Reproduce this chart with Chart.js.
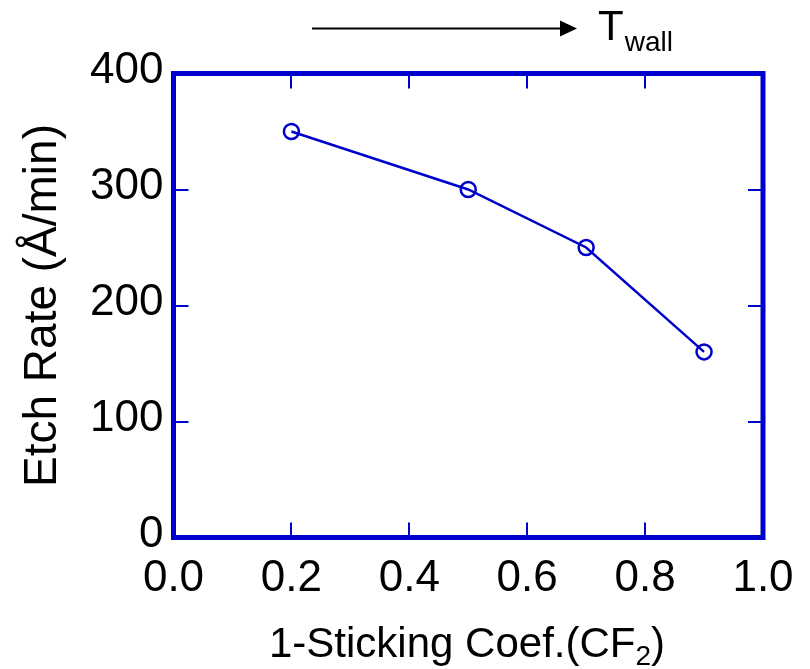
<!DOCTYPE html>
<html>
<head>
<meta charset="utf-8">
<title>Etch rate vs sticking coefficient</title>
<script src="https://cdn.jsdelivr.net/npm/chart.js@4.4.0/dist/chart.umd.min.js"></script>
<style>
  html, body { margin: 0; padding: 0; background: #fff; }
</style>
</head>
<body>
<canvas id="etch" width="810" height="669"></canvas>
<script>
const coefValues = [0.2, 0.5, 0.7, 0.9];
const etchRates = [350, 300, 250, 160];
const xTicks = [0, 0.2, 0.4, 0.6, 0.8, 1.0];
const yTicks = [0, 100, 200, 300, 400];

const BLUE = '#0000cc';
const FONT = "'Liberation Sans', Arial, Helvetica, sans-serif";

// frame with inward ticks, x title with subscript, T_wall arrow
const framePlugin = {
    id: 'framePlugin',
    afterDraw(chart) {
        const { ctx, chartArea: a, scales: { x, y } } = chart;
        const tick = 15;
        ctx.save();
        ctx.strokeStyle = BLUE;
        ctx.lineWidth = 2;
        ctx.beginPath();
        xTicks.slice(1, -1).forEach(v => {
            const px = Math.round(x.getPixelForValue(v));
            ctx.moveTo(px, a.bottom); ctx.lineTo(px, a.bottom - tick);
            ctx.moveTo(px, a.top); ctx.lineTo(px, a.top + tick);
        });
        yTicks.slice(1, -1).forEach(v => {
            const py = Math.round(y.getPixelForValue(v));
            ctx.moveTo(a.left, py); ctx.lineTo(a.left + tick, py);
            ctx.moveTo(a.right, py); ctx.lineTo(a.right - tick, py);
        });
        ctx.stroke();

        ctx.lineWidth = 5;
        ctx.strokeRect(a.left, a.top, a.right - a.left, a.bottom - a.top);

        // x axis title: 1-Sticking Coef.(CF2)
        ctx.fillStyle = '#000';
        ctx.textBaseline = 'alphabetic';
        ctx.textAlign = 'left';
        const big = '42px ' + FONT, small = '28px ' + FONT;
        const parts = [['1-Sticking Coef.(CF', big, 0], ['2', small, 8], [')', big, 0]];
        let total = 0;
        parts.forEach(p => { ctx.font = p[1]; total += ctx.measureText(p[0]).width; });
        let tx = 467 - total / 2;
        parts.forEach(p => {
            ctx.font = p[1];
            ctx.fillText(p[0], tx, 657 + p[2]);
            tx += ctx.measureText(p[0]).width;
        });

        // arrow towards T_wall
        ctx.strokeStyle = '#000';
        ctx.lineWidth = 2;
        ctx.beginPath();
        ctx.moveTo(312, 28.5); ctx.lineTo(562, 28.5);
        ctx.stroke();
        ctx.beginPath();
        ctx.moveTo(560, 20.5); ctx.lineTo(577, 28.5); ctx.lineTo(560, 36.5);
        ctx.closePath();
        ctx.fill();
        ctx.font = '42px ' + FONT;
        ctx.fillText('T', 598, 40);
        const tw = ctx.measureText('T').width;
        ctx.font = '28px ' + FONT;
        ctx.fillText('wall', 598 + tw + 1, 51);
        ctx.restore();
    }
};

new Chart(document.getElementById('etch'), {
    type: 'line',
    data: {
        datasets: [{
            label: 'Etch Rate',
            data: coefValues.map((c, i) => ({ x: c, y: etchRates[i] })),
            borderColor: BLUE,
            borderWidth: 2.5,
            backgroundColor: 'rgba(0,0,0,0)',
            pointStyle: 'circle',
            pointRadius: 7.5,
            pointBorderWidth: 2.5,
            pointBorderColor: BLUE,
            pointBackgroundColor: 'rgba(0,0,0,0)',
            tension: 0
        }]
    },
    options: {
        responsive: false,
        animation: false,
        layout: {
            padding: { left: 0, top: 73.5, right: 47, bottom: 0 }
        },
        plugins: {
            legend: { display: false },
            tooltip: { enabled: false }
        },
        scales: {
            x: {
                type: 'linear',
                min: 0,
                max: 1,
                afterFit: scale => { scale.height = 131.5; },
                afterBuildTicks: scale => { scale.ticks = xTicks.map(v => ({ value: v })); },
                grid: { display: false },
                border: { display: false },
                ticks: {
                    color: '#000',
                    font: { family: FONT, size: 44 },
                    padding: 7,
                    maxRotation: 0,
                    callback: v => v.toFixed(1)
                }
            },
            y: {
                type: 'linear',
                min: 0,
                max: 400,
                afterFit: scale => { scale.width = 173.5; },
                afterBuildTicks: scale => { scale.ticks = yTicks.map(v => ({ value: v })); },
                grid: { display: false },
                border: { display: false },
                ticks: {
                    color: '#000',
                    font: { family: FONT, size: 44 },
                    padding: 2,
                    labelOffset: -3
                },
                title: {
                    display: true,
                    text: 'Etch Rate (Å/min)',
                    color: '#000',
                    font: { family: FONT, size: 46, lineHeight: 1.2 },
                    padding: { top: 16, bottom: 0 }
                }
            }
        }
    },
    plugins: [framePlugin]
});
</script>
</body>
</html>
